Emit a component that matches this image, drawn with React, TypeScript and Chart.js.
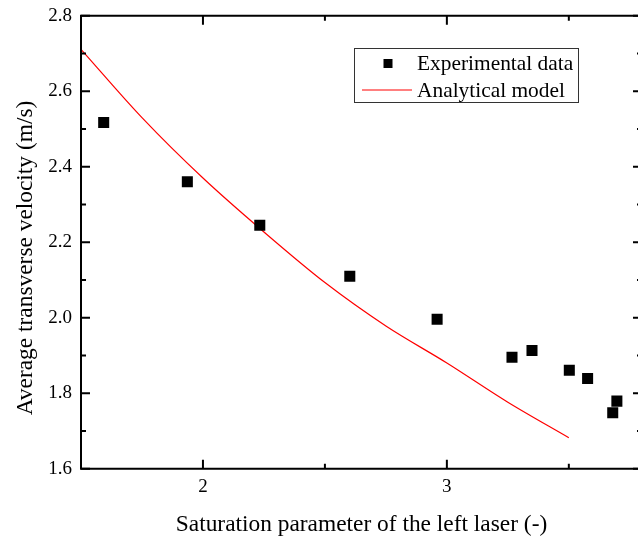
import React, { useEffect, useRef } from 'react';
import { Chart, registerables } from 'chart.js';

Chart.register(...registerables);

const expX = [1.593, 1.936, 2.233, 2.602, 2.960, 3.267, 3.349, 3.502, 3.577, 3.680, 3.697];
const expY = [2.517, 2.360, 2.245, 2.110, 1.996, 1.895, 1.913, 1.861, 1.839, 1.748, 1.779];
const modelX = [1.5, 1.75, 2.0, 2.25, 2.5, 2.75, 3.0, 3.25, 3.5];
const modelY = [2.711, 2.530, 2.370, 2.227, 2.093, 1.978, 1.880, 1.776, 1.682];
const xMajorTicks = [2, 3];
const xMinorTicks = [1.5, 2.5, 3.5];
const yMajorTicks = [1.6, 1.8, 2.0, 2.2, 2.4, 2.6, 2.8];
const yMinorTicks = [1.7, 1.9, 2.1, 2.3, 2.5, 2.7];
const xTitle = 'Saturation parameter of the left laser (-)';
const yTitle = 'Average transverse velocity (m/s)';
const seriesNames = ['Experimental data', 'Analytical model'];

const FONT = '"Liberation Serif", "Times New Roman", serif';

const framePlugin = {
  id: 'frameAndLegend',
  afterDatasetsDraw(chart: any) {
    const { ctx, chartArea } = chart;
    const { left, right, top, bottom } = chartArea;
    const xs = chart.scales.x;
    const ys = chart.scales.y;
    ctx.save();
    ctx.strokeStyle = '#000';
    ctx.lineWidth = 2;
    ctx.beginPath();
    ctx.rect(left, top, right - left, bottom - top);
    ctx.stroke();
    const major = 9;
    const minor = 5;
    ctx.beginPath();
    const xt = (v: number, len: number) => {
      const px = xs.getPixelForValue(v);
      ctx.moveTo(px, bottom);
      ctx.lineTo(px, bottom - len);
      ctx.moveTo(px, top);
      ctx.lineTo(px, top + len);
    };
    const yt = (v: number, len: number) => {
      const py = ys.getPixelForValue(v);
      ctx.moveTo(left, py);
      ctx.lineTo(left + len, py);
      ctx.moveTo(right, py);
      ctx.lineTo(right - len, py);
    };
    xMajorTicks.forEach((v) => xt(v, major));
    xMinorTicks.forEach((v) => xt(v, minor));
    yMajorTicks.forEach((v) => yt(v, major));
    yMinorTicks.forEach((v) => yt(v, minor));
    ctx.stroke();

    // y axis title
    ctx.fillStyle = '#000';
    ctx.font = `23.4px ${FONT}`;
    ctx.textAlign = 'center';
    ctx.textBaseline = 'middle';
    ctx.save();
    ctx.translate(26, 258);
    ctx.rotate(-Math.PI / 2);
    ctx.fillText(yTitle, 0, 0);
    ctx.restore();

    // legend
    ctx.lineWidth = 1;
    ctx.strokeStyle = '#333';
    ctx.strokeRect(354.5, 48.5, 224, 54);
    ctx.fillStyle = '#000';
    ctx.fillRect(383.5, 59, 9, 9);
    ctx.strokeStyle = '#ff0000';
    ctx.lineWidth = 1;
    ctx.beginPath();
    ctx.moveTo(362, 90);
    ctx.lineTo(412, 90);
    ctx.stroke();
    ctx.fillStyle = '#000';
    ctx.font = `21.4px ${FONT}`;
    ctx.textAlign = 'left';
    ctx.textBaseline = 'alphabetic';
    ctx.fillText(seriesNames[0], 417, 70);
    ctx.fillText(seriesNames[1], 417, 96.5);
    ctx.restore();
  },
};

export default function App() {
  const ref = useRef<HTMLCanvasElement | null>(null);
  useEffect(() => {
    if (!ref.current) return;
    const chart = new Chart(ref.current, {
      type: 'scatter',
      data: {
        datasets: [
          {
            label: seriesNames[0],
            data: expX.map((x, i) => ({ x, y: expY[i] })),
            pointStyle: 'rect',
            pointRadius: 7.8,
            pointBackgroundColor: '#000',
            pointBorderWidth: 0,
            showLine: false,
          },
          {
            label: seriesNames[1],
            data: modelX.map((x, i) => ({ x, y: modelY[i] })),
            showLine: true,
            pointRadius: 0,
            borderColor: '#ff0000',
            borderWidth: 1.2,
            cubicInterpolationMode: 'monotone',
          },
        ],
      },
      options: {
        responsive: false,
        animation: false,
        devicePixelRatio: 1,
        layout: { autoPadding: false, padding: { left: 0, right: 2, top: 15.7, bottom: 0 } },
        plugins: { legend: { display: false }, tooltip: { enabled: false } },
        scales: {
          x: {
            type: 'linear',
            min: 1.5,
            max: 3.8,
            grid: { display: false, drawTicks: false },
            border: { display: false },
            afterBuildTicks: (s: any) => {
              s.ticks = xMajorTicks.map((v) => ({ value: v }));
            },
            afterFit: (s: any) => {
              s.height = 542 - 468.7;
              s.paddingLeft = 0;
              s.paddingRight = 0;
            },
            ticks: {
              font: { family: FONT, size: 19 },
              color: '#000',
              padding: 7,
              maxRotation: 0,
              callback: (v: any) => String(v),
            },
            title: {
              display: true,
              text: xTitle,
              font: { family: FONT, size: 23.4 },
              color: '#000',
              padding: { top: 0, bottom: 3 },
            },
          },
          y: {
            type: 'linear',
            min: 1.6,
            max: 2.8,
            grid: { display: false, drawTicks: false },
            border: { display: false },
            afterBuildTicks: (s: any) => {
              s.ticks = yMajorTicks.map((v) => ({ value: v }));
            },
            afterFit: (s: any) => {
              s.width = 81;
              s.paddingTop = 0;
              s.paddingBottom = 0;
            },
            ticks: {
              font: { family: FONT, size: 19 },
              color: '#000',
              padding: 9,
              callback: (v: any) => Number(v).toFixed(1),
            },
          },
        },
      },
      plugins: [framePlugin],
    } as any);
    return () => chart.destroy();
  }, []);
  return (
    <div style={{ position: 'fixed', left: 0, top: 0, width: 638, height: 542, overflow: 'hidden', background: '#fff' }}>
      <canvas ref={ref} width={644} height={542} style={{ width: 644, height: 542, display: 'block' }} />
    </div>
  );
}
